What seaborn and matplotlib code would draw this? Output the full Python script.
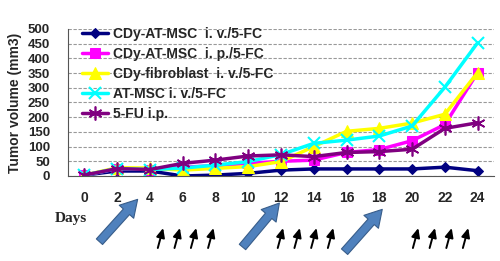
import numpy as np
import pandas as pd
import seaborn as sns
from matplotlib import pyplot as plt

sns.set_style('white')
plt.rcParams['font.family'] = ['Liberation Sans', 'DejaVu Sans']

days = [0, 2, 4, 6, 8, 10, 12, 14, 16, 18, 20, 22, 24]
cdy_msc_iv = [3, 17, 17, 0, 3, 9, 20, 24, 24, 24, 24, 30, 18]
cdy_msc_ip = [3, 25, 22, 30, 35, 43, 50, 54, 80, 90, 120, 175, 352]
cdy_fib_iv = [3, 28, 27, 20, 26, 32, 49, 100, 152, 162, 180, 210, 352]
msc_iv = [3, 25, 22, 27, 37, 49, 73, 111, 122, 136, 170, 302, 453]
fu_ip = [3, 25, 22, 43, 54, 68, 72, 66, 80, 83, 91, 162, 181]
labels = ['CDy-AT-MSC  i. v./5-FC', 'CDy-AT-MSC  i. p./5-FC',
          'CDy-fibroblast  i. v./5-FC', 'AT-MSC i. v./5-FC', '5-FU i.p.']

series = [cdy_msc_iv, cdy_msc_ip, cdy_fib_iv, msc_iv, fu_ip]
df = pd.DataFrame({'day': days * 5,
                   'vol': sum(series, []),
                   'group': np.repeat(labels, len(days))})

styles = {
    labels[0]: dict(color='#000080', marker='D', markersize=5),
    labels[1]: dict(color='#FF00FF', marker='s', markersize=7),
    labels[2]: dict(color='#FFFF00', marker='^', markersize=8),
    labels[3]: dict(color='#00FFFF', marker='x', markersize=8, markeredgewidth=1.5),
    labels[4]: dict(color='#800080', marker=(6, 2, 0), markersize=10, markeredgewidth=1.2),
}

fig = plt.figure(figsize=(5, 2.61), dpi=100)
ax = fig.add_axes([0.136, 0.3257, 0.852, 0.5632])

for g in labels:
    st = styles[g]
    sns.lineplot(data=df[df['group'] == g], x='day', y='vol', ax=ax, label=g,
                 lw=2.5, markeredgecolor=st['color'], **st)

ax.set_xlim(-1, 25)
ax.set_ylim(0, 500)
ax.set_yticks(range(0, 501, 50))
ax.set_xticks(days)
ax.set_xticks(range(-1, 26, 2), minor=True)
ax.yaxis.grid(True, color='#999999', linestyle=(0, (3, 1.5)), lw=0.8)
ax.tick_params(axis='x', which='major', length=0, pad=11, labelsize=10)
ax.tick_params(axis='x', which='minor', length=4, direction='out', color='#555555', width=0.8)
ax.tick_params(axis='y', length=3, direction='out', color='#555555', width=0.8, labelsize=9.5, pad=10)
for lab in ax.get_xticklabels() + ax.get_yticklabels():
    lab.set_fontweight('bold')
for s in ['top', 'right']:
    ax.spines[s].set_visible(False)
for s in ['left', 'bottom']:
    ax.spines[s].set_color('#555555')
    ax.spines[s].set_linewidth(0.8)
ax.set_xlabel('')
ax.set_ylabel('Tumor volume (mm3)', fontsize=10, fontweight='bold', labelpad=4)

leg = ax.legend(loc='upper left', bbox_to_anchor=(0.02, 1.05), frameon=False,
                prop=dict(weight='bold', size=10), handlelength=1.9,
                handletextpad=0.3, labelspacing=0.42, borderaxespad=0)

fig.text(0.142, 0.163, 'Days', fontsize=11, fontweight='bold',
         family=['Liberation Serif', 'DejaVu Serif'], ha='center', va='center')

# injection arrows below the axis
trans = ax.get_xaxis_transform()
big_tail = [(0.92, -0.447), (9.65, -0.483), (15.88, -0.515)]
big_tip = [(3.25, -0.159), (11.9, -0.184), (18.18, -0.227)]
for t0, t1 in zip(big_tail, big_tip):
    ax.annotate('', xy=t1, xytext=t0, xycoords=trans, textcoords=trans,
                annotation_clip=False,
                arrowprops=dict(arrowstyle='simple,head_length=1.2,head_width=1.4,tail_width=0.6',
                                fc='#4F81BD', ec='#385D8A', lw=0.8, shrinkA=0, shrinkB=0))
small_x = [4.48, 5.5, 6.5, 7.55, 11.8, 12.82, 13.84, 14.86, 20.05, 21.07, 22.09, 23.1]
for x in small_x:
    ax.annotate('', xy=(x + 0.33, -0.354), xytext=(x, -0.49), xycoords=trans,
                textcoords=trans, annotation_clip=False,
                arrowprops=dict(arrowstyle='-|>,head_length=0.55,head_width=0.25',
                                color='black', lw=1.4, shrinkA=0, shrinkB=0))

fig.savefig('out.png', dpi=100)
